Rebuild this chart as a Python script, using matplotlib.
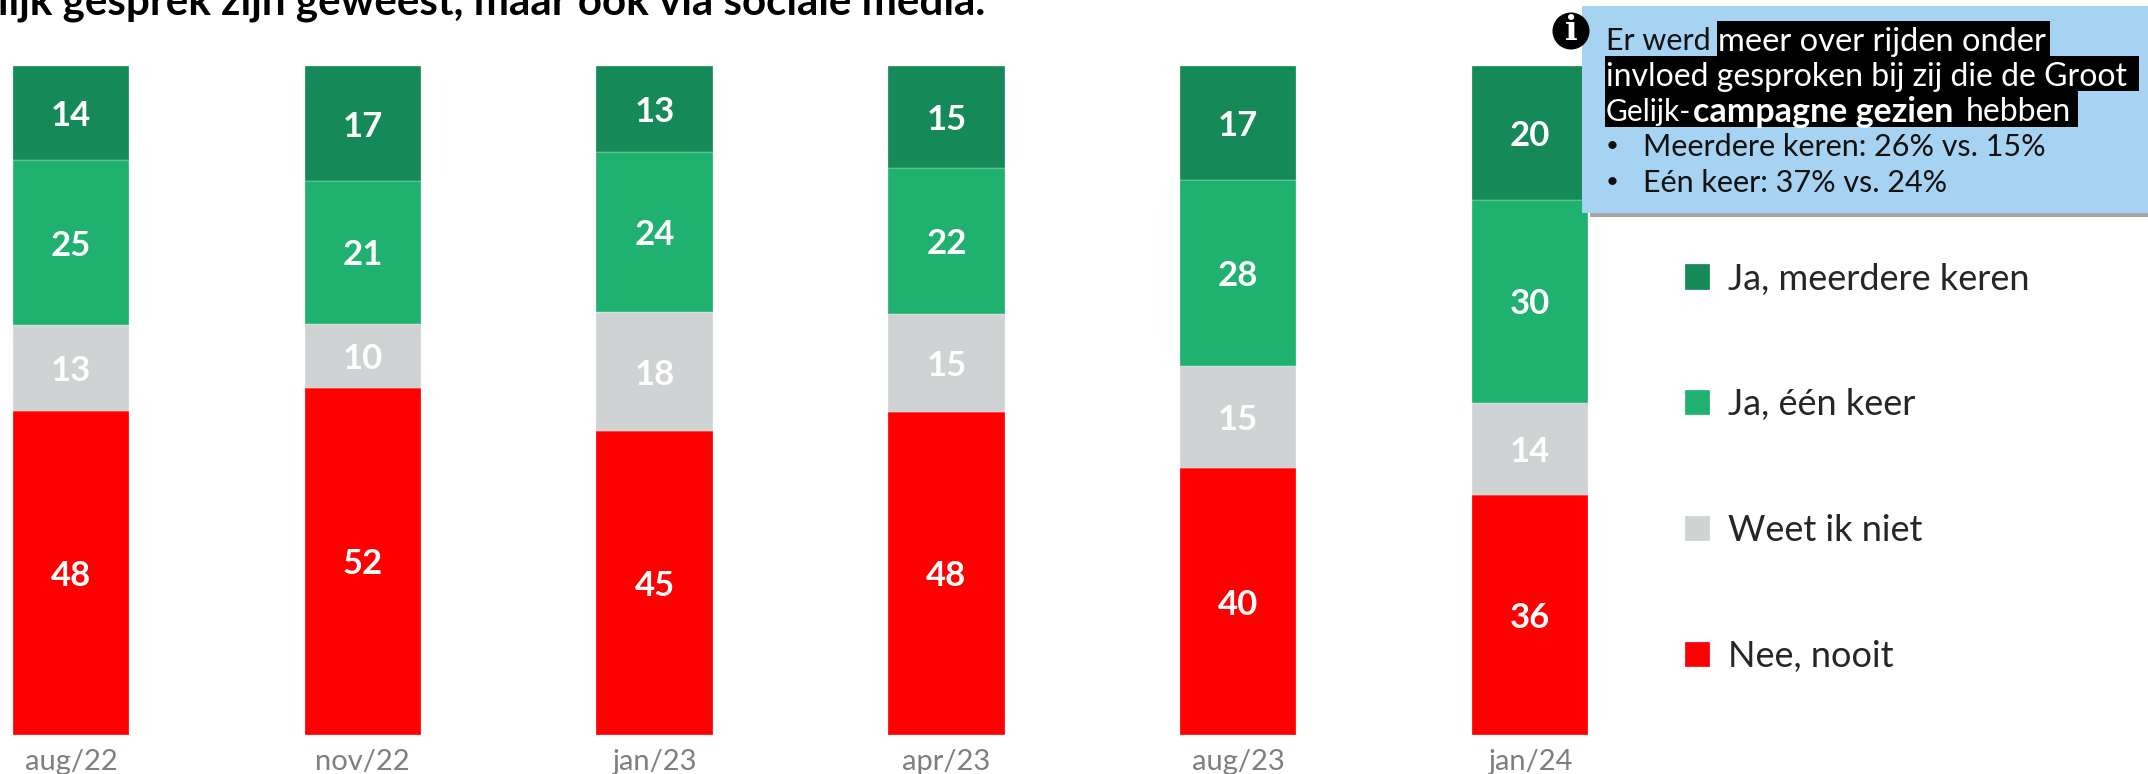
import matplotlib
matplotlib.use('Agg')
import matplotlib.pyplot as plt
from matplotlib.patches import Rectangle, Ellipse

plt.rcParams['font.family'] = ['Lato', 'DejaVu Sans']

periods = ['aug/22', 'nov/22', 'jan/23', 'apr/23', 'aug/23', 'jan/24']
nee_nooit = [48.4, 51.9, 45.4, 48.3, 39.9, 35.8]
weet_niet = [12.9, 9.6, 17.8, 14.7, 15.3, 13.9]
ja_een = [24.6, 21.3, 23.9, 21.7, 27.8, 30.3]
ja_meer = [14.1, 17.2, 12.9, 15.3, 17.0, 20.0]

series = [
    ('Nee, nooit', nee_nooit, '#FF0000'),
    ('Weet ik niet', weet_niet, '#D0D3D4'),
    ('Ja, één keer', ja_een, '#1FB16F'),
    ('Ja, meerdere keren', ja_meer, '#158957'),
]

W, H = 2148, 774
STEP = 291.8
fig = plt.figure(figsize=(W / 100, H / 100), dpi=100)

# bars, axes lined up so that 0-100 runs from y=735 to y=66 px
ax = fig.add_axes([0, (H - 735) / H, 1, (735 - 66) / H])
x = list(range(len(periods)))
bottom = [0] * len(periods)
for name, vals, col in series:
    ax.bar(x, vals, width=116.5 / STEP, bottom=bottom, color=col, label=name,
           edgecolor='white', linewidth=0.2)
    for i, v in enumerate(vals):
        ax.text(i, bottom[i] + v / 2, str(round(v)), ha='center', va='center_baseline',
                color='white', fontsize=25, fontweight='bold')
    bottom = [b + v for b, v in zip(bottom, vals)]

ax.set_xlim(-71 / STEP, (W - 71) / STEP)
ax.set_ylim(0, 100)
ax.set_xticks(x)
ax.set_xticklabels(periods, fontsize=21, color='#7F7F7F')
ax.tick_params(axis='x', length=0, pad=10)
ax.set_yticks([])
for s in ax.spines.values():
    s.set_visible(False)

handles, labels = ax.get_legend_handles_labels()
leg = ax.legend(handles[::-1], labels[::-1], loc='upper left',
                bbox_to_anchor=(1685 / W, 0.706), frameon=False, fontsize=26,
                handlelength=0.7, handleheight=0.7, handletextpad=0.5,
                labelspacing=2.57, borderpad=0, borderaxespad=0)
for t in leg.get_texts():
    t.set_color('#262626')

# overlay in pixel coordinates for the callout and the cut off heading
ov = fig.add_axes([0, 0, 1, 1], zorder=5)
ov.set_xlim(0, W)
ov.set_ylim(H, 0)
ov.axis('off')

ov.text(-2, 3, 'lijk gesprek zijn geweest, maar ook via sociale media.',
        fontsize=30.3, fontweight='bold', color='black', va='center', ha='left')

ov.add_patch(Rectangle((1590, 10), W - 1590, 207, color='#A5A5A5', lw=0))
ov.add_patch(Rectangle((1582, 6), W - 1582, 207, color='#A6D3F2', lw=0))
ov.add_patch(Rectangle((1717, 21), 333, 35, color='black', lw=0))
ov.add_patch(Rectangle((1605, 56), 534, 35, color='black', lw=0))
ov.add_patch(Rectangle((1605, 91), 473, 36, color='black', lw=0))

ov.add_patch(Ellipse((1571, 31), 37, 37, color='black', lw=0, zorder=4))
ov.text(1571, 31, 'i', color='white', fontsize=24, fontweight='bold',
        family='DejaVu Serif', ha='center', va='center', zorder=5)

ov.text(1606, 39, 'Er werd', fontsize=22, color='#111111', va='center_baseline')
ov.text(1718, 39, 'meer over rijden onder', fontsize=23.5, color='white', va='center_baseline')
ov.text(1606, 74, 'invloed gesproken bij zij die de Groot', fontsize=23, color='white', va='center_baseline')
ov.text(1606, 109, 'Gelijk-', fontsize=21.5, color='white', va='center_baseline')
ov.text(1693, 109, 'campagne gezien', fontsize=24.5, color='white', va='center_baseline', fontweight='bold')
ov.text(1966, 109, 'hebben', fontsize=23, color='white', va='center_baseline')
ov.text(1606, 144, '•', fontsize=16, color='#111111', va='center_baseline')
ov.text(1643, 144, 'Meerdere keren: 26% vs. 15%', fontsize=22, color='#111111', va='center_baseline')
ov.text(1606, 180, '•', fontsize=16, color='#111111', va='center_baseline')
ov.text(1643, 180, 'Eén keer: 37% vs. 24%', fontsize=22, color='#111111', va='center_baseline')

fig.savefig('out.png', dpi=100)
